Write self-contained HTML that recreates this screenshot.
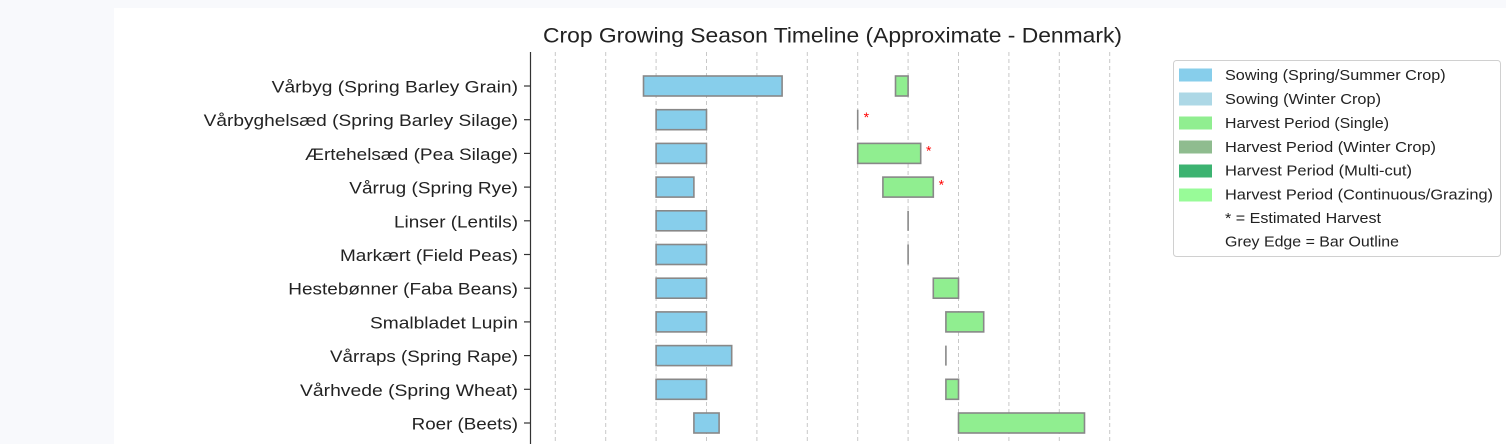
<!DOCTYPE html>
<html>
<head>
<meta charset="utf-8">
<style>
  html, body { margin:0; padding:0; }
  body { width:1506px; height:444px; overflow:hidden; background:#f8f9fc; }
  .panel { position:absolute; left:114px; top:8px; width:1392px; height:436px; background:#ffffff; }
  svg { position:absolute; left:0; top:0; }
  text { font-family: "Liberation Sans", "DejaVu Sans", sans-serif; fill:#222; }
</style>
</head>
<body>
<div class="panel"></div>
<svg width="1506" height="444" viewBox="0 0 1506 444" xmlns="http://www.w3.org/2000/svg">
  <!-- Title -->
  <text x="543" y="42.5" font-size="21" textLength="579" lengthAdjust="spacingAndGlyphs">Crop Growing Season Timeline (Approximate - Denmark)</text>

  <!-- Vertical dashed gridlines -->
  <g stroke="#c8c8c8" stroke-width="1" stroke-dasharray="4,3">
    <line x1="555.3" y1="52" x2="555.3" y2="444"/>
    <line x1="605.7" y1="52" x2="605.7" y2="444"/>
    <line x1="656.1" y1="52" x2="656.1" y2="444"/>
    <line x1="706.5" y1="52" x2="706.5" y2="444"/>
    <line x1="756.9" y1="52" x2="756.9" y2="444"/>
    <line x1="807.3" y1="52" x2="807.3" y2="444"/>
    <line x1="857.7" y1="52" x2="857.7" y2="444"/>
    <line x1="908.1" y1="52" x2="908.1" y2="444"/>
    <line x1="958.5" y1="52" x2="958.5" y2="444"/>
    <line x1="1008.9" y1="52" x2="1008.9" y2="444"/>
    <line x1="1059.3" y1="52" x2="1059.3" y2="444"/>
    <line x1="1109.7" y1="52" x2="1109.7" y2="444"/>
  </g>

  <!-- Left spine -->
  <line x1="530.5" y1="52" x2="530.5" y2="444" stroke="#333" stroke-width="1.2"/>

  <!-- Ticks -->
  <g stroke="#333" stroke-width="1.2">
    <line x1="524" y1="86" x2="530" y2="86"/>
    <line x1="524" y1="119.7" x2="530" y2="119.7"/>
    <line x1="524" y1="153.4" x2="530" y2="153.4"/>
    <line x1="524" y1="187.1" x2="530" y2="187.1"/>
    <line x1="524" y1="220.8" x2="530" y2="220.8"/>
    <line x1="524" y1="254.5" x2="530" y2="254.5"/>
    <line x1="524" y1="288.2" x2="530" y2="288.2"/>
    <line x1="524" y1="321.9" x2="530" y2="321.9"/>
    <line x1="524" y1="355.6" x2="530" y2="355.6"/>
    <line x1="524" y1="389.3" x2="530" y2="389.3"/>
    <line x1="524" y1="423" x2="530" y2="423"/>
  </g>

  <!-- Y labels -->
  <g font-size="17">
    <text x="271.7" y="92.5" textLength="246.3" lengthAdjust="spacingAndGlyphs">Vårbyg (Spring Barley Grain)</text>
    <text x="203.6" y="126.2" textLength="314.4" lengthAdjust="spacingAndGlyphs">Vårbyghelsæd (Spring Barley Silage)</text>
    <text x="305" y="159.9" textLength="213" lengthAdjust="spacingAndGlyphs">Ærtehelsæd (Pea Silage)</text>
    <text x="349.3" y="193.6" textLength="168.7" lengthAdjust="spacingAndGlyphs">Vårrug (Spring Rye)</text>
    <text x="394" y="227.3" textLength="124" lengthAdjust="spacingAndGlyphs">Linser (Lentils)</text>
    <text x="340" y="261" textLength="178" lengthAdjust="spacingAndGlyphs">Markært (Field Peas)</text>
    <text x="288.3" y="294.7" textLength="229.7" lengthAdjust="spacingAndGlyphs">Hestebønner (Faba Beans)</text>
    <text x="370" y="328.4" textLength="148" lengthAdjust="spacingAndGlyphs">Smalbladet Lupin</text>
    <text x="330" y="362.1" textLength="188" lengthAdjust="spacingAndGlyphs">Vårraps (Spring Rape)</text>
    <text x="300" y="395.8" textLength="218" lengthAdjust="spacingAndGlyphs">Vårhvede (Spring Wheat)</text>
    <text x="411.7" y="429.5" textLength="106.3" lengthAdjust="spacingAndGlyphs">Roer (Beets)</text>
  </g>

  <!-- Sowing bars -->
  <g fill="#87ceeb" stroke="#888" stroke-width="1.6">
    <rect x="643.5" y="76" width="138.6" height="20"/>
    <rect x="656.1" y="109.7" width="50.4" height="20"/>
    <rect x="656.1" y="143.4" width="50.4" height="20"/>
    <rect x="656.1" y="177.1" width="37.8" height="20"/>
    <rect x="656.1" y="210.8" width="50.4" height="20"/>
    <rect x="656.1" y="244.5" width="50.4" height="20"/>
    <rect x="656.1" y="278.2" width="50.4" height="20"/>
    <rect x="656.1" y="311.9" width="50.4" height="20"/>
    <rect x="656.1" y="345.6" width="75.6" height="20"/>
    <rect x="656.1" y="379.3" width="50.4" height="20"/>
    <rect x="693.9" y="413" width="25.2" height="20"/>
  </g>

  <!-- Harvest bars -->
  <g fill="#90ee90" stroke="#888" stroke-width="1.6">
    <rect x="895.5" y="76" width="12.6" height="20"/>
    <rect x="857.7" y="143.4" width="63" height="20"/>
    <rect x="882.9" y="177.1" width="50.4" height="20"/>
    <rect x="933.3" y="278.2" width="25.2" height="20"/>
    <rect x="945.9" y="311.9" width="37.8" height="20"/>
    <rect x="945.9" y="379.3" width="12.6" height="20"/>
    <rect x="958.5" y="413" width="126" height="20"/>
  </g>
  <!-- zero-width harvest bars -->
  <g stroke="#888" stroke-width="1.6">
    <line x1="857.7" y1="109.7" x2="857.7" y2="129.7"/>
    <line x1="908.1" y1="210.8" x2="908.1" y2="230.8"/>
    <line x1="908.1" y1="244.5" x2="908.1" y2="264.5"/>
    <line x1="945.9" y1="345.6" x2="945.9" y2="365.6"/>
  </g>

  <!-- Estimated stars -->
  <g font-size="14" text-anchor="middle">
    <text x="866.3" y="122" style="fill:#ff0000">*</text>
    <text x="928.7" y="155.7" style="fill:#ff0000">*</text>
    <text x="941.3" y="189.4" style="fill:#ff0000">*</text>
  </g>

  <!-- Legend -->
  <rect x="1173.5" y="60.5" width="327" height="196" rx="3" ry="3" fill="#ffffff" stroke="#d0d0d0" stroke-width="1"/>
  <rect x="1179" y="68.5" width="33" height="13" fill="#87ceeb"/>
  <rect x="1179" y="92.5" width="33" height="13" fill="#add8e6"/>
  <rect x="1179" y="116.5" width="33" height="13" fill="#90ee90"/>
  <rect x="1179" y="140.5" width="33" height="13" fill="#8fbc8f"/>
  <rect x="1179" y="164.5" width="33" height="13" fill="#3cb371"/>
  <rect x="1179" y="188.5" width="33" height="13" fill="#98fb98"/>
  <g font-size="14.5">
    <text x="1225" y="80" textLength="220.7" lengthAdjust="spacingAndGlyphs">Sowing (Spring/Summer Crop)</text>
    <text x="1225" y="104" textLength="156" lengthAdjust="spacingAndGlyphs">Sowing (Winter Crop)</text>
    <text x="1225" y="128" textLength="164" lengthAdjust="spacingAndGlyphs">Harvest Period (Single)</text>
    <text x="1225" y="152" textLength="211" lengthAdjust="spacingAndGlyphs">Harvest Period (Winter Crop)</text>
    <text x="1225" y="175.5" textLength="187" lengthAdjust="spacingAndGlyphs">Harvest Period (Multi-cut)</text>
    <text x="1225" y="199.5" textLength="268" lengthAdjust="spacingAndGlyphs">Harvest Period (Continuous/Grazing)</text>
    <text x="1225" y="223" textLength="156" lengthAdjust="spacingAndGlyphs">* = Estimated Harvest</text>
    <text x="1225" y="246.5" textLength="174" lengthAdjust="spacingAndGlyphs">Grey Edge = Bar Outline</text>
  </g>
</svg>
</body>
</html>
